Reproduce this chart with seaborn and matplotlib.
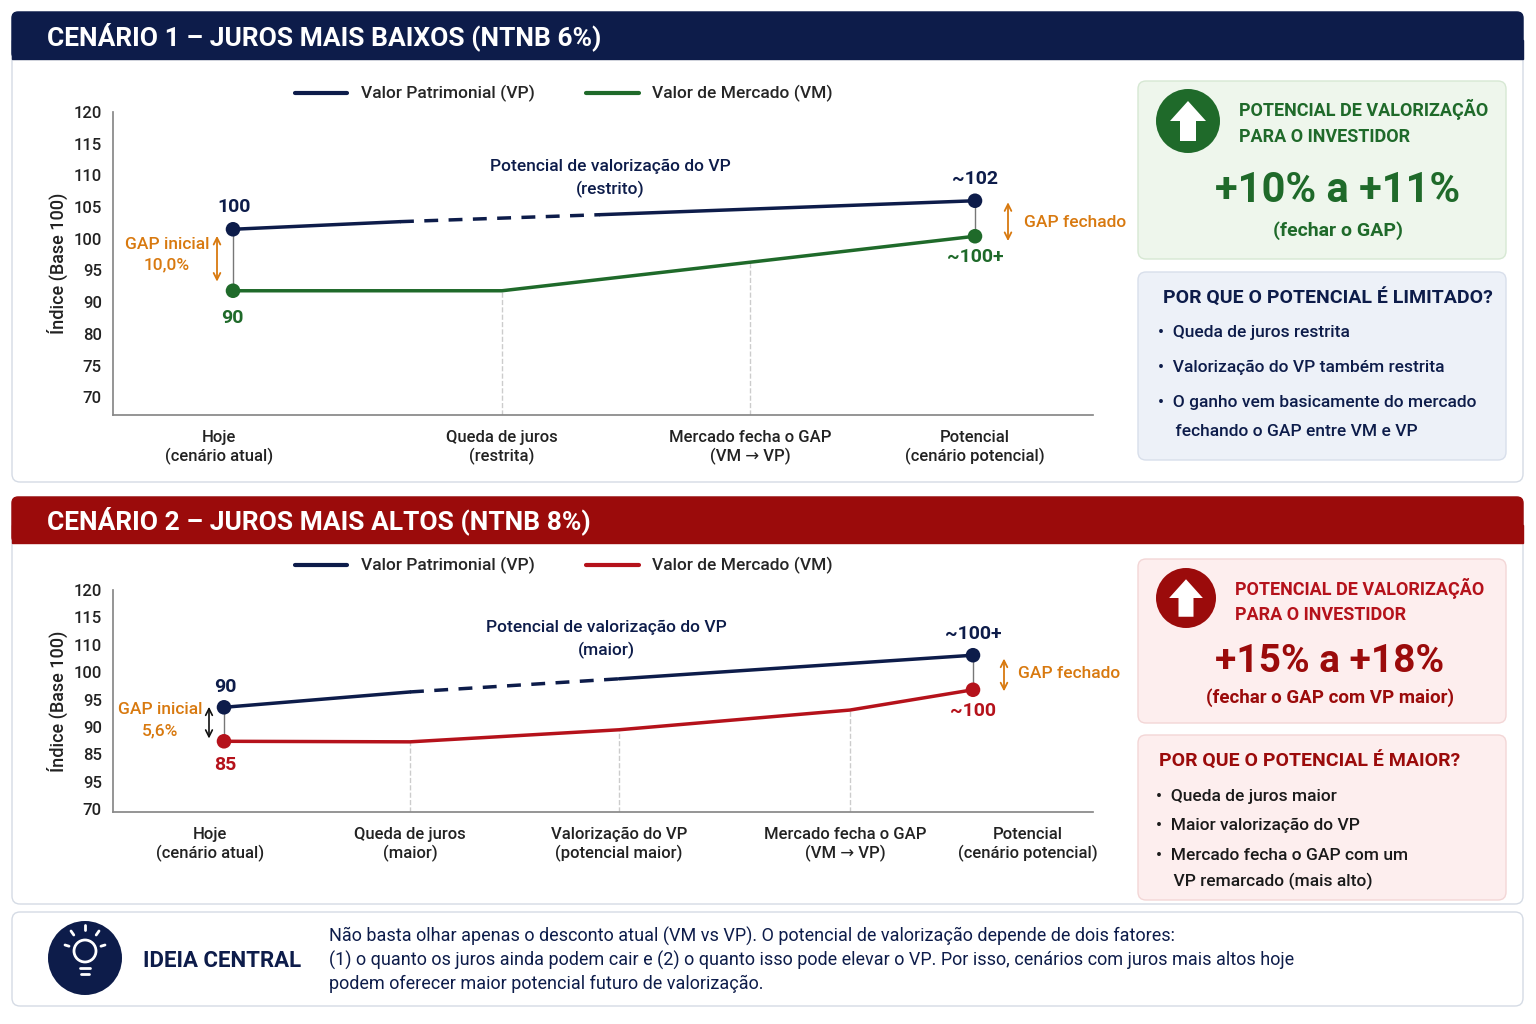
import matplotlib
matplotlib.use("Agg")
import matplotlib.pyplot as plt
import seaborn as sns
import pandas as pd
from matplotlib.patches import FancyBboxPatch, Circle, Polygon, Rectangle

sns.set_theme(style="white")
plt.rcParams['font.family'] = ['Roboto', 'DejaVu Sans']

W, H = 1536, 1024
NAVY = "#0d1c4a"; GREEN = "#1f6a2a"; RED = "#b5121b"; HRED = "#9b0b0b"
ORANGE = "#d8790f"; GRAYTXT = "#222222"

# ---------- data ----------
c1_cats = ["Hoje\n(cenário atual)", "Queda de juros\n(restrita)", "Mercado fecha o GAP\n(VM → VP)", "Potencial\n(cenário potencial)"]
c1_tickpos = [219, 502, 750, 975]
c1_vm_x = [233, 502, 750, 975]
c1_vm = [91.8, 91.8, 96.3, 100.4]
c1_vp_x = [233, 400, 600, 975]
c1_vp = [101.5, 102.7, 103.8, 106.0]
c1_yticks = [120, 115, 110, 105, 100, 95, 90, 85, 80, 75]
c1_ylabels = ["120", "115", "110", "105", "100", "95", "90", "80", "75", "70"]

c2_cats = ["Hoje\n(cenário atual)", "Queda de juros\n(maior)", "Valorização do VP\n(potencial maior)", "Mercado fecha o GAP\n(VM → VP)", "Potencial\n(cenário potencial)"]
c2_tickpos = [210, 410, 619, 845, 1028]
c2_vm_x = [224, 410, 619, 850, 973]
c2_vm = [92.4, 92.3, 94.5, 98.1, 101.8]
c2_vp_x = [224, 410, 619, 973]
c2_vp = [98.6, 101.4, 103.8, 108.1]
c2_yticks = [120, 115, 110, 105, 100, 95, 90, 85, 80]
c2_ylabels = ["120", "115", "110", "100", "95", "90", "85", "95", "70"]

fig = plt.figure(figsize=(W/100, H/100), dpi=100)
bg = fig.add_axes([0, 0, 1, 1]); bg.set_xlim(0, W); bg.set_ylim(H, 0); bg.axis("off")

def box(x0, y0, x1, y1, fc, ec="#d5dbe5", r=8, lw=1):
    bg.add_patch(FancyBboxPatch((x0, y0), x1-x0, y1-y0, boxstyle=f"round,pad=0,rounding_size={r}",
                                fc=fc, ec=ec, lw=lw))

# panels
box(12, 12, 1523, 482, "white")
box(12, 12, 1523, 59, NAVY, ec=NAVY, r=6)
bg.add_patch(Rectangle((12, 40), 1511, 19, fc=NAVY, ec=NAVY))
bg.text(47, 37, "CENÁRIO 1 – JUROS MAIS BAIXOS (NTNB 6%)", color="white", fontsize=19, fontweight="bold", va="center")
box(12, 497, 1523, 904, "white")
box(12, 497, 1523, 543, HRED, ec=HRED, r=6)
bg.add_patch(Rectangle((12, 525), 1511, 18, fc=HRED, ec=HRED))
bg.text(47, 521, "CENÁRIO 2 – JUROS MAIS ALTOS (NTNB 8%)", color="white", fontsize=19, fontweight="bold", va="center")
box(12, 912, 1523, 1006, "white")

def arrow_icon(cx, cy, r, col):
    bg.add_patch(Circle((cx, cy), r, fc=col, ec="none"))
    s = r/32
    pts = [(0, -20), (18, 0), (8, 0), (8, 20), (-8, 20), (-8, 0), (-18, 0)]
    bg.add_patch(Polygon([(cx+px*s, cy+py*s) for px, py in pts], fc="white", ec="none"))

# right panels scenario 1
box(1138, 81, 1506, 259, "#eef6ec", ec="#d6e8d3")
arrow_icon(1188, 121, 32, GREEN)
bg.text(1239, 109, "POTENCIAL DE VALORIZAÇÃO", color=GREEN, fontsize=13, fontweight="bold", va="center")
bg.text(1239, 137, "PARA O INVESTIDOR", color=GREEN, fontsize=13, fontweight="bold", va="center")
bg.text(1338, 190, "+10% a +11%", color=GREEN, fontsize=30, fontweight="bold", ha="center", va="center")
bg.text(1338, 231, "(fechar o GAP)", color=GREEN, fontsize=14, fontweight="bold", ha="center", va="center")
box(1138, 272, 1506, 460, "#edf1f8", ec="#d8dfeb")
bg.text(1163, 298, "POR QUE O POTENCIAL É LIMITADO?", color=NAVY, fontsize=14, fontweight="bold", va="center")
for y, t in [(333, "•  Queda de juros restrita"), (367, "•  Valorização do VP também restrita"),
             (403, "•  O ganho vem basicamente do mercado"), (432, "    fechando o GAP entre VM e VP")]:
    bg.text(1158, y, t, color=NAVY, fontsize=12.5, va="center", fontweight="medium")

# right panels scenario 2
box(1138, 559, 1506, 723, "#fdeeee", ec="#f3d6d6")
arrow_icon(1186, 598, 30, HRED)
bg.text(1235, 588, "POTENCIAL DE VALORIZAÇÃO", color=RED, fontsize=13, fontweight="bold", va="center")
bg.text(1235, 615, "PARA O INVESTIDOR", color=RED, fontsize=13, fontweight="bold", va="center")
bg.text(1330, 661, "+15% a +18%", color=HRED, fontsize=28, fontweight="bold", ha="center", va="center")
bg.text(1330, 698, "(fechar o GAP com VP maior)", color=HRED, fontsize=13.5, fontweight="bold", ha="center", va="center")
box(1138, 735, 1506, 900, "#fdeeee", ec="#f3d6d6")
bg.text(1159, 761, "POR QUE O POTENCIAL É MAIOR?", color=HRED, fontsize=14, fontweight="bold", va="center")
for y, t in [(796, "•  Queda de juros maior"), (825, "•  Maior valorização do VP"),
             (855, "•  Mercado fecha o GAP com um"), (881, "    VP remarcado (mais alto)")]:
    bg.text(1156, y, t, color="#1a1a1a", fontsize=12.5, va="center", fontweight="medium")

# bottom idea
bg.add_patch(Circle((85, 958), 37, fc=NAVY, ec="none"))
bg.add_patch(Circle((85, 951), 11, fc="none", ec="white", lw=2))
bg.plot([80, 90], [968, 968], color="white", lw=2); bg.plot([81, 89], [974, 974], color="white", lw=2)
for dx, dy in [(-20, -6), (20, -6), (-14, -20), (14, -20), (0, -26)]:
    bg.plot([85+dx*0.8, 85+dx], [951+dy*0.8, 951+dy], color="white", lw=2)
bg.text(143, 961, "IDEIA CENTRAL", color=NAVY, fontsize=16, fontweight="bold", va="center")
for y, t in [(936, "Não basta olhar apenas o desconto atual (VM vs VP). O potencial de valorização depende de dois fatores:"),
             (960, "(1) o quanto os juros ainda podem cair e (2) o quanto isso pode elevar o VP. Por isso, cenários com juros mais altos hoje"),
             (984, "podem oferecer maior potencial futuro de valorização.")]:
    bg.text(329, y, t, color=NAVY, fontsize=13, va="center")

# ---------- charts ----------
def ax_rect(x0, y0, x1, y1):
    return [x0/W, 1-y1/H, (x1-x0)/W, (y1-y0)/H]

def make_chart(rect, ylim, yticks, ylabels, tickpos, cats, vm_x, vm, vp_x, vp, vmcol):
    ax = fig.add_axes(ax_rect(*rect)); ax.patch.set_alpha(0)
    ax.set_xlim(113, 1093); ax.set_ylim(*ylim)
    for s in ["top", "right"]: ax.spines[s].set_visible(False)
    for s in ["left", "bottom"]: ax.spines[s].set_color("#888888")
    ax.set_yticks(yticks); ax.set_yticklabels(ylabels, fontsize=12, color=GRAYTXT, fontweight="medium")
    ax.set_xticks(tickpos); ax.set_xticklabels(cats, fontsize=12, color=GRAYTXT, fontweight="medium")
    ax.tick_params(axis="x", length=5, color="#888888", pad=6)
    ax.tick_params(axis="y", length=0, pad=8)
    for x, v in zip(vm_x[1:-1], vm[1:-1]):
        ax.plot([x, x], [ylim[0], v], color="#cccccc", ls="--", lw=1, zorder=1)
    ax.plot([vm_x[0]]*2, [vm[0], vp[0]], color="#777777", lw=1, zorder=1)
    ax.plot([vm_x[-1]]*2, [vm[-1], vp[-1]], color="#777777", lw=1, zorder=1)
    dvm = pd.DataFrame({"x": vm_x, "y": vm})
    sns.lineplot(data=dvm, x="x", y="y", color=vmcol, lw=2.5, ax=ax, zorder=3)
    i1, i2 = 1, 2
    sns.lineplot(x=vp_x[:i1+1], y=vp[:i1+1], color=NAVY, lw=2.5, ax=ax, zorder=3)
    ax.plot(vp_x[i1:i2+1], vp[i1:i2+1], color=NAVY, lw=2.5, ls=(0, (4, 3)), zorder=3)
    sns.lineplot(x=vp_x[i2:], y=vp[i2:], color=NAVY, lw=2.5, ax=ax, zorder=3)
    sns.scatterplot(x=[vm_x[0], vm_x[-1]], y=[vm[0], vm[-1]], color=vmcol, s=110, ax=ax, zorder=4, edgecolor="none")
    sns.scatterplot(x=[vp_x[0], vp_x[-1]], y=[vp[0], vp[-1]], color=NAVY, s=110, ax=ax, zorder=4, edgecolor="none")
    ax.set_xlabel("")
    ax.set_ylabel("Índice (Base 100)", fontsize=13, color=GRAYTXT, fontweight="medium")
    return ax

ax1 = make_chart((113, 112, 1093, 415), (72.2, 120), c1_yticks, c1_ylabels, c1_tickpos, c1_cats,
                 c1_vm_x, c1_vm, c1_vp_x, c1_vp, GREEN)
ax1.text(234, 103.6, "100", color=NAVY, fontsize=14, fontweight="bold", ha="center", va="bottom")
ax1.text(232, 89.0, "90", color=GREEN, fontsize=14, fontweight="bold", ha="center", va="top")
ax1.text(975, 108.0, "~102", color=NAVY, fontsize=14, fontweight="bold", ha="center", va="bottom")
ax1.text(975, 98.6, "~100+", color=GREEN, fontsize=14, fontweight="bold", ha="center", va="top")
ax1.text(610, 109.5, "Potencial de valorização do VP\n(restrito)", color=NAVY, fontsize=12.5, ha="center", va="center", fontweight="medium", linespacing=1.5)
ax1.annotate("", xy=(217, 92.8), xytext=(217, 100.9), arrowprops=dict(arrowstyle="<->", color=ORANGE, lw=1.3))
ax1.text(167, 97.5, "GAP inicial\n10,0%", color=ORANGE, fontsize=12.5, ha="center", va="center", linespacing=1.5, fontweight="medium")
ax1.annotate("", xy=(1008, 99.2), xytext=(1008, 106.2), arrowprops=dict(arrowstyle="<->", color=ORANGE, lw=1.3))
ax1.text(1024, 102.6, "GAP fechado", color=ORANGE, fontsize=12.5, va="center", fontweight="medium")
ax1.legend(handles=[plt.Line2D([], [], color=NAVY, lw=3), plt.Line2D([], [], color=GREEN, lw=3)],
           labels=["Valor Patrimonial (VP)", "Valor de Mercado (VM)"], ncol=2, frameon=False,
           loc="lower center", bbox_to_anchor=(0.46, 0.98), prop={"size": 12.5, "weight": "medium"},
           handlelength=3, columnspacing=3)

ax2 = make_chart((113, 590, 1093, 812), (79.5, 120), c2_yticks, c2_ylabels, c2_tickpos, c2_cats,
                 c2_vm_x, c2_vm, c2_vp_x, c2_vp, RED)
ax2.text(225, 100.6, "90", color=NAVY, fontsize=14, fontweight="bold", ha="center", va="bottom")
ax2.text(225, 89.8, "85", color=RED, fontsize=14, fontweight="bold", ha="center", va="top")
ax2.text(973, 110.3, "~100+", color=NAVY, fontsize=14, fontweight="bold", ha="center", va="bottom")
ax2.text(973, 99.6, "~100", color=RED, fontsize=14, fontweight="bold", ha="center", va="top")
ax2.text(606, 111.0, "Potencial de valorização do VP\n(maior)", color=NAVY, fontsize=12.5, ha="center", va="center", fontweight="medium", linespacing=1.5)
ax2.annotate("", xy=(209, 92.4), xytext=(209, 99.2), arrowprops=dict(arrowstyle="<->", color="#111111", lw=1.2))
ax2.text(160, 96.2, "GAP inicial\n5,6%", color=ORANGE, fontsize=12.5, ha="center", va="center", linespacing=1.5, fontweight="medium")
ax2.annotate("", xy=(1004, 101.0), xytext=(1004, 108.0), arrowprops=dict(arrowstyle="<->", color=ORANGE, lw=1.3))
ax2.text(1018, 104.7, "GAP fechado", color=ORANGE, fontsize=12.5, va="center", fontweight="medium")
ax2.legend(handles=[plt.Line2D([], [], color=NAVY, lw=3), plt.Line2D([], [], color=RED, lw=3)],
           labels=["Valor Patrimonial (VP)", "Valor de Mercado (VM)"], ncol=2, frameon=False,
           loc="lower center", bbox_to_anchor=(0.46, 1.0), prop={"size": 12.5, "weight": "medium"},
           handlelength=3, columnspacing=3)

fig.savefig("out.png", dpi=100)
